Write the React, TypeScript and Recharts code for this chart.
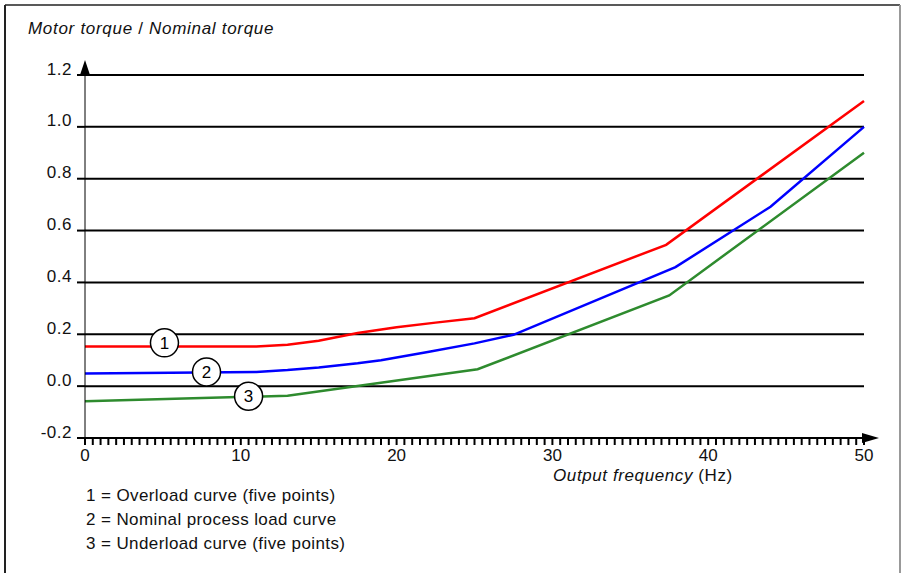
import React from 'react'
import {
  LineChart,
  Line,
  XAxis,
  YAxis,
  CartesianGrid,
  ReferenceDot,
} from 'recharts'

// curve points (Hz -> torque ratio)
const OVERLOAD_HZ = [0, 11, 13, 15, 17.5, 20, 22.5, 25, 37.3, 50]
const OVERLOAD_TORQUE = [0.153, 0.153, 0.16, 0.175, 0.205, 0.227, 0.245, 0.262, 0.545, 1.1]

const NOMINAL_HZ = [0, 11, 13, 15, 17.5, 19, 22, 25, 27.5, 37.9, 44, 50]
const NOMINAL_TORQUE = [0.049, 0.055, 0.062, 0.072, 0.088, 0.1, 0.132, 0.165, 0.198, 0.459, 0.692, 1.0]

const UNDERLOAD_HZ = [0, 13, 25.2, 37.5, 50]
const UNDERLOAD_TORQUE = [-0.058, -0.037, 0.065, 0.35, 0.9]

const Y_TICKS = [-0.2, 0, 0.2, 0.4, 0.6, 0.8, 1.0, 1.2]
const X_MAJOR_TICKS = [0, 10, 20, 30, 40, 50]
const X_MINOR_STEP = 0.5

// numbered circles on the curves
const MARKER_LABELS = ['1', '2', '3']
const MARKER_HZ = [5.1, 7.8, 10.5]
const MARKER_TORQUE = [0.167, 0.055, -0.039]

const LEGEND_LINES = [
  '1 = Overload curve (five points)',
  '2 = Nominal process load curve',
  '3 = Underload curve (five points)',
]

const FONT = '"Liberation Sans", Arial, sans-serif'

const toPoints = (hz: number[], torque: number[]) =>
  hz.map((x, i) => ({ x, y: torque[i] }))

const overload = toPoints(OVERLOAD_HZ, OVERLOAD_TORQUE)
const nominal = toPoints(NOMINAL_HZ, NOMINAL_TORQUE)
const underload = toPoints(UNDERLOAD_HZ, UNDERLOAD_TORQUE)

const xTicks: number[] = []
for (let v = 0; v <= 50; v += X_MINOR_STEP) xTicks.push(v)

const XTick = (props: any) => {
  const { x, y, payload } = props
  if (!X_MAJOR_TICKS.includes(payload.value)) return <g />
  return (
    <text
      x={x}
      y={y}
      dy="0.71em"
      textAnchor="middle"
      fontFamily={FONT}
      fontSize={17}
      fill="#111"
    >
      {payload.value}
    </text>
  )
}

const YTick = (props: any) => {
  const { x, y, payload } = props
  return (
    <text
      x={x}
      y={y}
      dy={-0.5}
      textAnchor="end"
      fontFamily={FONT}
      fontSize={17}
      letterSpacing={0.5}
      fill="#111"
    >
      {Number(payload.value).toFixed(1)}
    </text>
  )
}

export default function App() {
  return (
    <div style={{ position: 'absolute', left: 0, top: 0, width: 902, height: 573, background: '#fff' }}>
      <LineChart
        width={902}
        height={573}
        margin={{ top: 75, right: 38, bottom: 95, left: 25 }}
      >
        <CartesianGrid vertical={false} stroke="#000" strokeWidth={2} />
        <XAxis
          dataKey="x"
          type="number"
          domain={[0, 50]}
          ticks={xTicks}
          interval={0}
          height={40}
          axisLine={{ stroke: '#000', strokeWidth: 2 }}
          tickLine={{ stroke: '#000', strokeWidth: 2 }}
          tickSize={7}
          tickMargin={4}
          tick={<XTick />}
        />
        <YAxis
          type="number"
          domain={[-0.2, 1.2]}
          ticks={Y_TICKS}
          interval={0}
          width={60}
          axisLine={{ stroke: '#000', strokeWidth: 1 }}
          tickLine={{ stroke: '#000', strokeWidth: 2 }}
          tickSize={8}
          tickMargin={5}
          tick={<YTick />}
        />
        <Line
          data={overload}
          dataKey="y"
          type="linear"
          stroke="#ff0000"
          strokeWidth={2.5}
          dot={false}
          isAnimationActive={false}
        />
        <Line
          data={nominal}
          dataKey="y"
          type="linear"
          stroke="#0000ff"
          strokeWidth={2.5}
          dot={false}
          isAnimationActive={false}
        />
        <Line
          data={underload}
          dataKey="y"
          type="linear"
          stroke="#2e8b2e"
          strokeWidth={2.5}
          dot={false}
          isAnimationActive={false}
        />
        {/* axis arrows */}
        <ReferenceDot
          x={50}
          y={-0.2}
          ifOverflow="visible"
          shape={(p: any) => (
            <polygon
              points={`${p.cx - 2},${p.cy - 5} ${p.cx + 15},${p.cy} ${p.cx - 2},${p.cy + 5}`}
              fill="#000"
            />
          )}
        />
        <ReferenceDot
          x={0}
          y={1.2}
          ifOverflow="visible"
          shape={(p: any) => (
            <polygon
              points={`${p.cx - 5},${p.cy} ${p.cx},${p.cy - 15} ${p.cx + 5},${p.cy}`}
              fill="#000"
            />
          )}
        />
        {MARKER_LABELS.map((label, i) => (
          <ReferenceDot
            key={label}
            x={MARKER_HZ[i]}
            y={MARKER_TORQUE[i]}
            ifOverflow="visible"
            shape={(p: any) => (
              <g>
                <circle cx={p.cx} cy={p.cy} r={14} fill="#fff" stroke="#000" strokeWidth={1.5} />
                <text
                  x={p.cx}
                  y={p.cy}
                  dy={6}
                  textAnchor="middle"
                  fontFamily={FONT}
                  fontSize={17}
                  fill="#000"
                >
                  {label}
                </text>
              </g>
            )}
          />
        ))}
      </LineChart>

      <svg
        width={902}
        height={573}
        style={{ position: 'absolute', left: 0, top: 0, pointerEvents: 'none' }}
      >
        <line x1={5} y1={5} x2={5} y2={573} stroke="#222" strokeWidth={2} />
        <line x1={5} y1={5} x2={900} y2={5} stroke="#222" strokeWidth={1.5} />
        <line x1={900} y1={5} x2={900} y2={573} stroke="#999" strokeWidth={2} />
        <text x={28} y={34} fontFamily={FONT} fontSize={17} letterSpacing={0.7} fill="#111">
          <tspan fontStyle="italic">Motor torque</tspan>
          <tspan> / </tspan>
          <tspan fontStyle="italic">Nominal torque</tspan>
        </text>
        <text x={553} y={481} fontFamily={FONT} fontSize={17} letterSpacing={0.6} fill="#111">
          <tspan fontStyle="italic">Output frequency</tspan>
          <tspan> (Hz)</tspan>
        </text>
        {LEGEND_LINES.map((line, i) => (
          <text
            key={line}
            x={86}
            y={501 + i * 24}
            fontFamily={FONT}
            fontSize={17}
            letterSpacing={0.4}
            fill="#111"
          >
            {line}
          </text>
        ))}
      </svg>
    </div>
  )
}
